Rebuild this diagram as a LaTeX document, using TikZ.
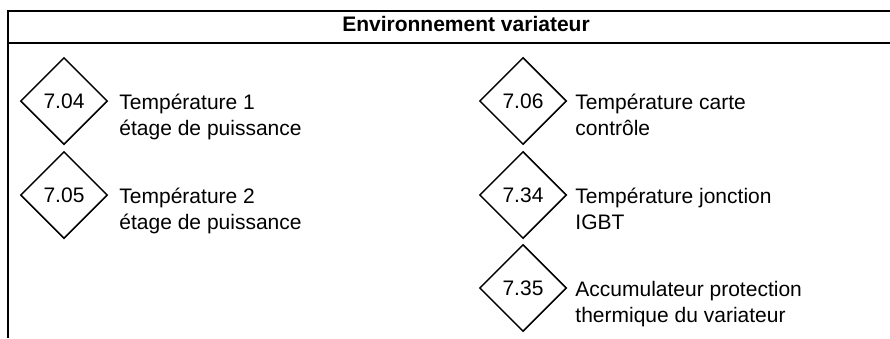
\documentclass[tikz,border=0pt]{standalone}
\usepackage{fontspec}
\setmainfont{Liberation Sans}
\usetikzlibrary{shapes.geometric,positioning}

\begin{document}
\begin{tikzpicture}[x=1pt,y=-1pt,
  param/.style={draw=black,line width=1.5pt,shape=diamond,minimum width=87pt,minimum height=87pt,inner sep=0pt,font=\fontsize{21}{25.5}\selectfont},
  desc/.style={align=left,inner sep=0pt,font=\fontsize{21}{25.5}\selectfont}]
\useasboundingbox (0,0) rectangle (890,338);
% frame:
\path[draw=black,line width=1.8pt] (890,11) -- (8,11) -- (8,338);
\path[draw=black,line width=1.6pt] (8,43) -- (890,43);
\node[anchor=base,inner sep=0pt,font=\bfseries\fontsize{21}{25}\selectfont] (title) at (466,31) {Environnement variateur};
% left column:
\node[param] (p704) at (64,101) {7.04};
\node[param] (p705) at (64,195) {7.05};
\node[desc,right=11pt of p704,anchor=base west,yshift=-34pt] (t704) {Température 1\\étage de puissance};
\node[desc,right=11pt of p705,anchor=base west,yshift=-34pt] (t705) {Température 2\\étage de puissance};
% right column:
\node[param] (p706) at (523,101) {7.06};
\node[param] (p734) at (523,195) {7.34};
\node[param] (p735) at (523,288) {7.35};
\node[desc,right=8pt of p706,anchor=base west,yshift=-34pt] (t706) {Température carte\\contrôle};
\node[desc,right=8pt of p734,anchor=base west,yshift=-34pt] (t734) {Température jonction\\IGBT};
\node[desc,right=8pt of p735,anchor=base west,yshift=-34pt] (t735) {Accumulateur protection\\thermique du variateur};
\end{tikzpicture}
\end{document}
